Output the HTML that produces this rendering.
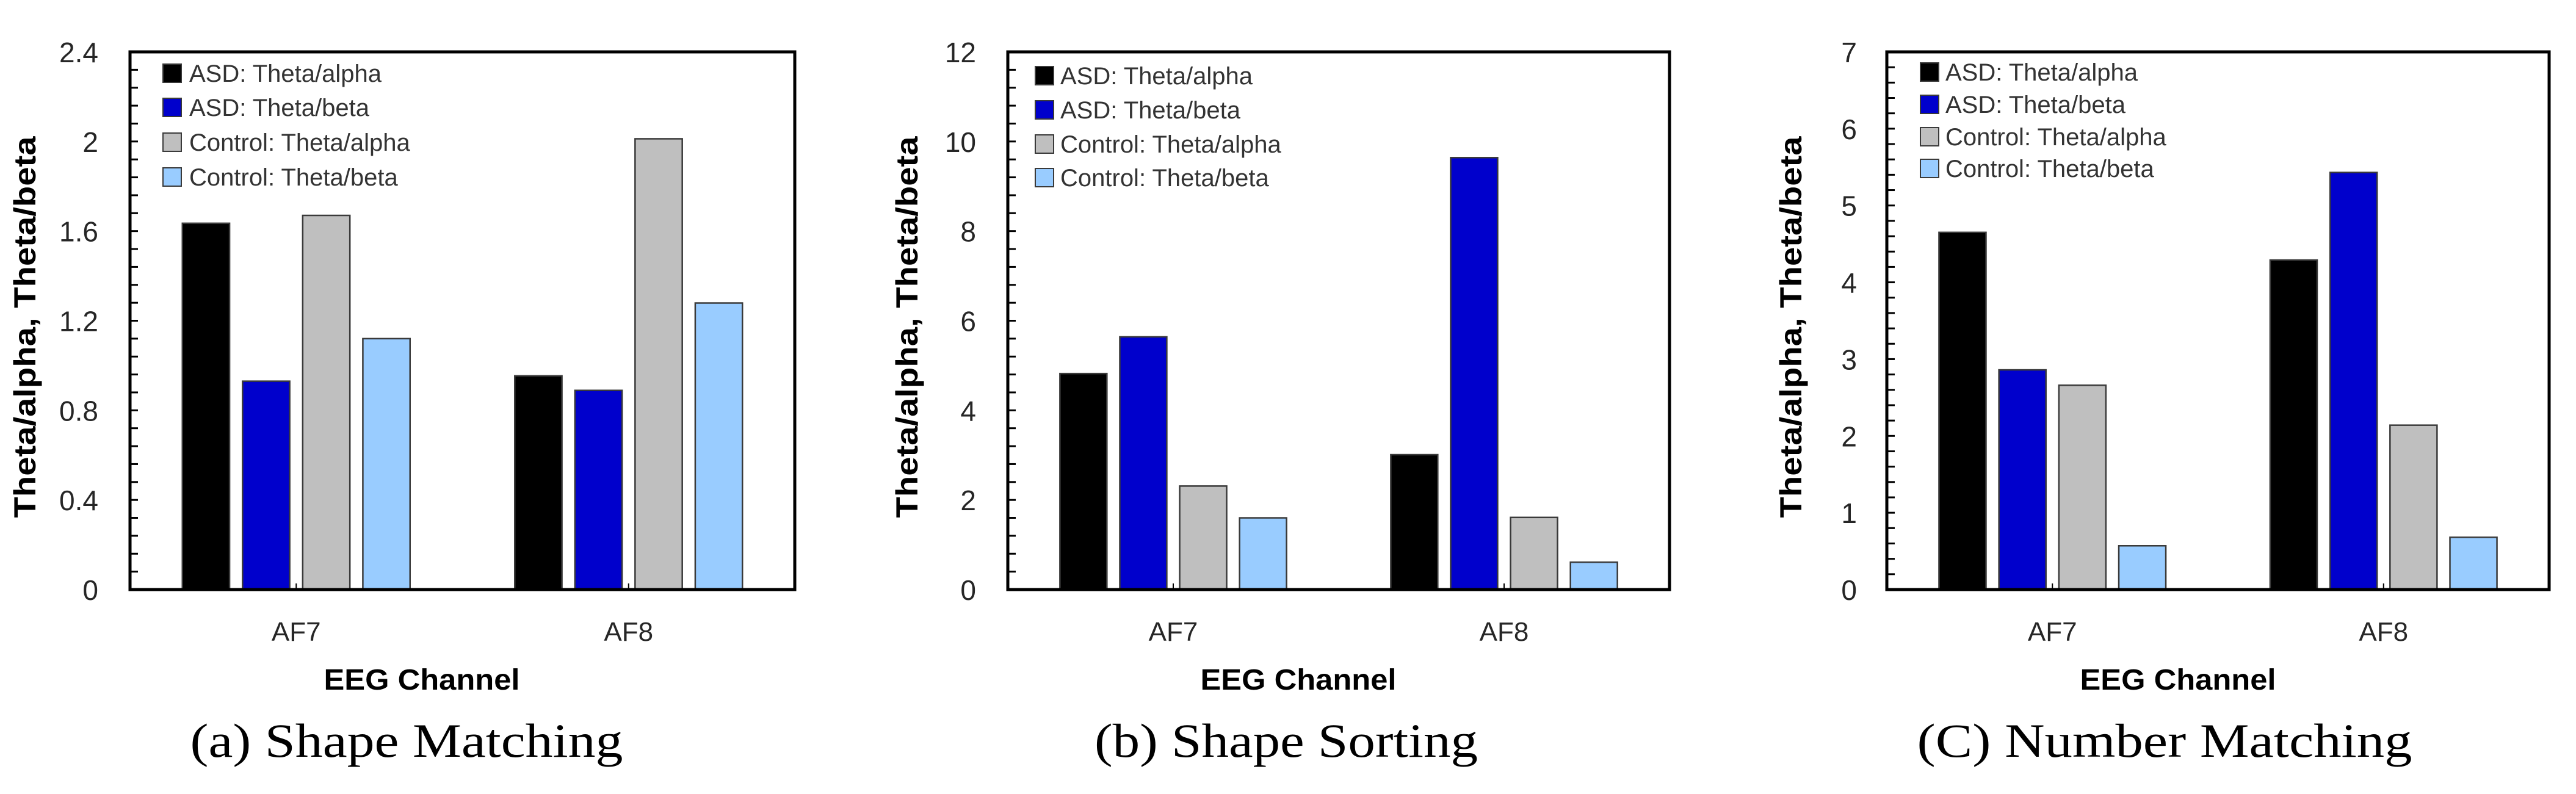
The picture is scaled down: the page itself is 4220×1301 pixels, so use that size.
<!DOCTYPE html>
<html><head><meta charset="utf-8"><style>
html,body{margin:0;padding:0;background:#fff;width:4220px;height:1301px;overflow:hidden}
svg{display:block}
</style></head><body>
<svg id="fig" xmlns="http://www.w3.org/2000/svg" width="4220" height="1301" viewBox="0 0 4220 1301"></svg>
<script>
const categories = ["AF7", "AF8"];
const seriesNames = ["ASD: Theta/alpha", "ASD: Theta/beta", "Control: Theta/alpha", "Control: Theta/beta"];
const seriesColors = ["#000000", "#0000CC", "#BFBFBF", "#99CCFF"];
const shapeMatchingASDAlpha = [1.635, 0.954];
const shapeMatchingASDBeta = [0.93, 0.889];
const shapeMatchingCtrlAlpha = [1.67, 2.012];
const shapeMatchingCtrlBeta = [1.12, 1.279];
const shapeSortingASDAlpha = [4.82, 3.01];
const shapeSortingASDBeta = [5.64, 9.64];
const shapeSortingCtrlAlpha = [2.31, 1.61];
const shapeSortingCtrlBeta = [1.60, 0.61];
const numberMatchingASDAlpha = [4.65, 4.29];
const numberMatchingASDBeta = [2.86, 5.43];
const numberMatchingCtrlAlpha = [2.66, 2.14];
const numberMatchingCtrlBeta = [0.57, 0.68];
const ticksA = ["0", "0.4", "0.8", "1.2", "1.6", "2", "2.4"];
const ticksB = ["0", "2", "4", "6", "8", "10", "12"];
const ticksC = ["0", "1", "2", "3", "4", "5", "6", "7"];
const captions = ["(a) Shape Matching", "(b) Shape Sorting", "(C) Number Matching"];

const NS = "http://www.w3.org/2000/svg";
const svg = document.getElementById("fig");
function mk(tag, attrs, parent, text) {
  const e = document.createElementNS(NS, tag);
  for (const k in attrs) e.setAttribute(k, attrs[k]);
  if (text !== undefined) e.textContent = text;
  (parent || svg).appendChild(e);
  return e;
}
const panels = [
  {id:"a", series:[shapeMatchingASDAlpha, shapeMatchingASDBeta, shapeMatchingCtrlAlpha, shapeMatchingCtrlBeta], ticks:ticksA, max:2.4, minor:30,
   L:213, R:1302, lblR:161, ytx:41, legSq:267, legTx:310, legY:[120,176,233,290], capX:666, capLen:709, xt:691},
  {id:"b", series:[shapeSortingASDAlpha, shapeSortingASDBeta, shapeSortingCtrlAlpha, shapeSortingCtrlBeta], ticks:ticksB, max:12, minor:30,
   L:1651, R:2735, lblR:1599, ytx:1486, legSq:1696, legTx:1737, legY:[124,180,236,291], capX:2107, capLen:628, xt:2127},
  {id:"c", series:[numberMatchingASDAlpha, numberMatchingASDBeta, numberMatchingCtrlAlpha, numberMatchingCtrlBeta], ticks:ticksC, max:7, minor:35,
   L:3091, R:4176, lblR:3042, ytx:2934, legSq:3146, legTx:3187, legY:[118,171,224,276], capX:3546, capLen:811, xt:3568}
];
const T = 85, B = 966;
panels.forEach(p => {
  const g = mk("g", {});
  
  
  const y = v => B - (v / p.max) * (B - T);
  const band = (p.R - p.L) / categories.length;
  const xc = i => p.L + band * (i + 0.5);
  const bw = band * 0.142, step = band * 0.181;
  // bars
  p.series.forEach((vals, s) => {
    vals.forEach((v, i) => {
      const x = xc(i) + (s - 1.5) * step - bw / 2;
      const r = mk("rect", {x:x, y:y(v), width:bw, height:B - y(v), fill:seriesColors[s], stroke:"#3a3a3a", "stroke-width":2.5}, g);
      
      
    });
  });
  // minor ticks
  for (let k = 1; k < p.minor; k++) {
    const yy = T + (B - T) * k / p.minor;
    mk("line", {x1:p.L, x2:p.L + 13, y1:yy, y2:yy, stroke:"#000", "stroke-width":3}, g);
  }
  // category ticks
  categories.forEach((c, i) => {
    const xx = p.L + band * (i + 0.5);
    mk("line", {x1:xx, x2:xx, y1:B, y2:B - 10, stroke:"#000", "stroke-width":2}, g);
    const t = mk("text", {x:xc(i), y:1050, "text-anchor":"middle", "font-family":"Liberation Sans, sans-serif", "font-size":44, fill:"#262626"}, g, c);
    
    
  });
  // frame
  const fr = mk("rect", {x:p.L, y:T, width:p.R - p.L, height:B - T, fill:"none", stroke:"#000", "stroke-width":5}, g);
  
  
  // y tick labels
  p.ticks.forEach((lab, k) => {
    const t = mk("text", {x:p.lblR, y:y(p.max * k / (p.ticks.length - 1)) + 17, "text-anchor":"end", "font-family":"Liberation Sans, sans-serif", "font-size":46, fill:"#262626"}, g, lab);
    
    
  });
  // y title
  const yt = mk("text", {x:0, y:0, transform:"translate(" + (p.ytx + 17) + ",536) rotate(-90)", "text-anchor":"middle", "font-family":"Liberation Sans, sans-serif", "font-weight":"bold", "font-size":50, textLength:625, lengthAdjust:"spacingAndGlyphs", fill:"#000"}, g, "Theta/alpha, Theta/beta");
  
  
  // x title
  const xt = mk("text", {x:p.xt, y:1130, "text-anchor":"middle", "font-family":"Liberation Sans, sans-serif", "font-weight":"bold", "font-size":48, textLength:321, lengthAdjust:"spacingAndGlyphs", fill:"#000"}, g, "EEG Channel");
  
  
  // legend
  seriesNames.forEach((n, s) => {
    const ly = p.legY[s];
    const sq = mk("rect", {x:p.legSq, y:ly - 15, width:30, height:30, fill:seriesColors[s], stroke:"#3a3a3a", "stroke-width":2}, g);
    
    
    const t = mk("text", {x:p.legTx, y:ly + 14, "font-family":"Liberation Sans, sans-serif", "font-size":40, fill:"#333"}, g, n);
    
    
  });
  // caption
  const cap = mk("text", {x:p.capX, y:1240, "text-anchor":"middle", "font-family":"Liberation Serif, serif", "font-size":78, textLength:p.capLen, lengthAdjust:"spacingAndGlyphs", fill:"#000"}, g, captions[panels.indexOf(p)]);
  
  
});
</script>
</body></html>
